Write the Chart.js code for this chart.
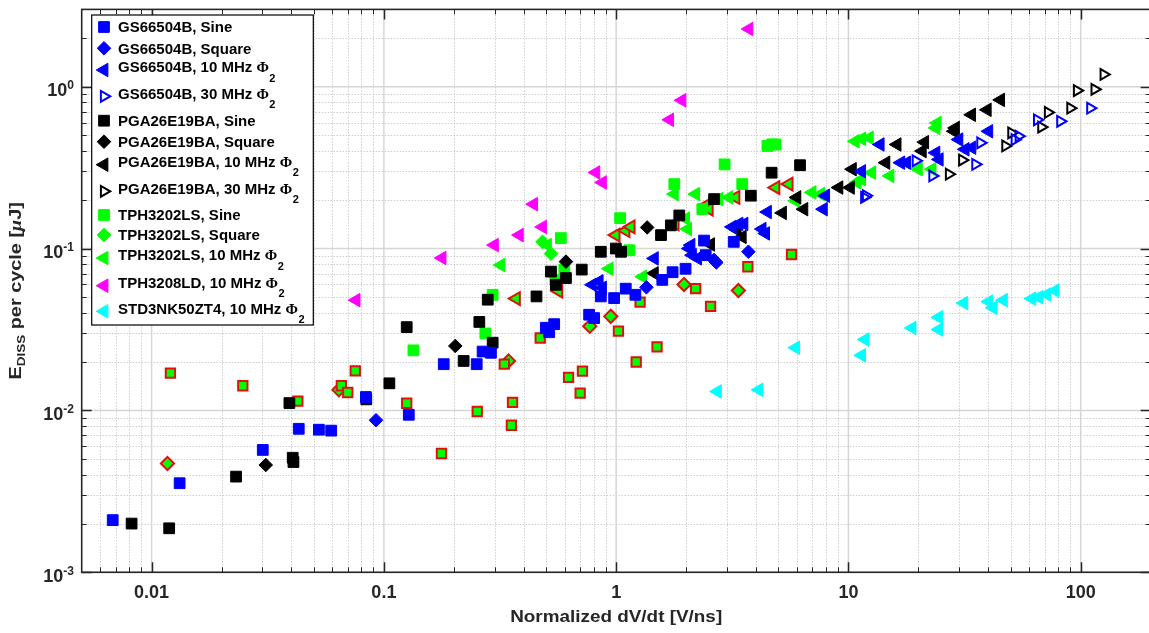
<!DOCTYPE html>
<html>
<head>
<meta charset="utf-8">
<title>E_DISS per cycle vs normalized dV/dt</title>
<script src="https://cdn.jsdelivr.net/npm/chart.js@4"></script>
<style>
  html, body { margin: 0; padding: 0; background: #fff; overflow: hidden; }
  #wrap { width: 1160px; height: 633px; }
</style>
</head>
<body>
<div id="wrap"><canvas id="chart" width="1160" height="633"></canvas></div>
<script>
// values: [dV/dt in V/ns, E_DISS in uJ]
const gsSine = [[0.0068,0.0021],[0.0132,0.00355],[0.0301,0.0057],[0.043,0.0077],[0.0525,0.0076],[0.0593,0.0075],[0.0837,0.0121],[0.128,0.0094],[0.181,0.0193],[0.251,0.0193],[0.266,0.0231],[0.289,0.0227],[0.498,0.0324],[0.515,0.0304],[0.541,0.0341],[0.765,0.039],[0.804,0.0372],[0.859,0.0506],[0.98,0.0494],[1.10,0.0565],[1.21,0.0518],[1.58,0.064],[1.75,0.0714],[1.99,0.075],[2.39,0.112],[2.43,0.091],[3.21,0.110]];
const gsSquare = [[0.0925,0.0087],[1.35,0.0576],[2.64,0.085],[2.70,0.082],[3.71,0.0955]];
const gs10 = [[0.79,0.0597],[0.845,0.0627],[0.873,0.0572],[1.46,0.0869],[2.06,0.100],[2.1,0.105],[2.13,0.091],[2.24,0.087],[3.16,0.136],[3.38,0.142],[3.55,0.142],[4.25,0.132],[4.40,0.124],[4.48,0.168],[7.8,0.175],[7.98,0.212],[11.4,0.30],[13.7,0.439],[16.8,0.339],[17.8,0.339],[23.8,0.39],[24.6,0.355],[29.9,0.471],[31.8,0.41],[34.0,0.42],[40.2,0.53]];
const gs30 = [[11.7,0.207],[11.9,0.212],[19.5,0.348],[23.0,0.281],[35.2,0.331],[37.0,0.45],[52.0,0.47],[54.1,0.494],[64.9,0.624],[81.7,0.611],[110,0.736]];
const pgaSine = [[0.0082,0.0020],[0.0119,0.00187],[0.0231,0.0039],[0.0392,0.0111],[0.0405,0.0051],[0.0408,0.0048],[0.084,0.0117],[0.1056,0.0147],[0.1254,0.0327],[0.2205,0.0202],[0.2576,0.0352],[0.294,0.0262],[0.280,0.0483],[0.454,0.0506],[0.524,0.072],[0.55,0.0597],[0.608,0.0657],[0.711,0.0741],[0.859,0.0955],[0.997,0.100],[1.05,0.0955],[1.56,0.121],[1.72,0.139],[1.87,0.160],[2.64,0.202],[3.80,0.212],[4.67,0.294],[6.19,0.327]];
const pgaSquare = [[0.031,0.0046],[0.203,0.025],[0.608,0.083],[1.36,0.135]];
const pga10 = [[1.46,0.0703],[2.55,0.106],[3.32,0.130],[3.49,0.118],[5.2,0.166],[6.0,0.207],[6.43,0.175],[9.1,0.238],[10.2,0.238],[10.4,0.309],[14.5,0.339],[16.2,0.439],[20.8,0.40],[21.3,0.454],[28.5,0.53],[28.9,0.556],[33.9,0.67],[39.6,0.719],[45.2,0.828]];
const pga30 = [[27.1,0.288],[30.9,0.352],[47.4,0.43],[50.3,0.518],[67.7,0.563],[72.3,0.693],[90.3,0.736],[96.4,0.945],[114.8,0.963],[125.6,1.19]];
const tphSine = [[0.134,0.0235],[0.2734,0.0299],[0.294,0.0518],[0.547,0.064],[0.598,0.0741],[0.578,0.116],[1.04,0.154],[1.14,0.0976],[1.78,0.25],[2.35,0.175],[2.93,0.331],[3.49,0.25],[4.48,0.43],[4.7,0.44],[4.86,0.439]];
const tphSquare = [[0.482,0.11],[0.524,0.093]];
const tph10 = [[0.319,0.079],[0.506,0.105],[0.933,0.075],[1.30,0.067],[1.78,0.217],[1.99,0.153],[2.03,0.132],[2.20,0.217],[2.77,0.202],[3.06,0.207],[5.93,0.197],[6.97,0.222],[7.6,0.217],[10.7,0.46],[11.4,0.476],[12.3,0.483],[10.9,0.256],[11.4,0.268],[12.6,0.294],[15.1,0.281],[20.0,0.309],[22.9,0.309],[23.8,0.556],[24.1,0.596]];
const tph08 = [[0.0759,0.048],[0.178,0.0874],[0.299,0.105],[0.383,0.121],[0.441,0.188],[0.482,0.136],[0.818,0.295],[0.873,0.256],[1.70,0.624],[1.92,0.823],[3.73,2.27]];
const std10 = [[2.73,0.0131],[4.12,0.0134],[5.93,0.0244],[11.4,0.0219],[11.8,0.0274],[18.8,0.0323],[24.5,0.0376],[24.5,0.0316],[31.4,0.046],[40.2,0.047],[42,0.043],[46.5,0.048],[61.6,0.049],[66,0.050],[71.4,0.052],[77.6,0.055]];
// green markers with red edge (not listed in the legend)
const edgeSine = [[0.01205,0.017],[0.0247,0.0142],[0.0426,0.0114],[0.0656,0.0142],[0.0699,0.0129],[0.0753,0.01755],[0.1254,0.01107],[0.177,0.00542],[0.2523,0.00985],[0.33,0.0193],[0.354,0.0081],[0.358,0.0112],[0.471,0.028],[0.624,0.016],[0.70,0.0128],[0.716,0.0175],[1.023,0.0309],[1.22,0.0199],[1.268,0.0467],[1.50,0.0247],[2.2,0.0565],[2.55,0.0439],[3.69,0.0772],[5.69,0.0918]];
const edgeSquare = [[0.0117,0.0047],[0.064,0.0134],[0.344,0.0202],[0.77,0.0331],[0.948,0.0381],[1.96,0.060],[3.36,0.055]];
const edge10 = [[0.371,0.0491],[0.565,0.0546],[0.997,0.121],[1.10,0.129],[1.157,0.136],[1.79,0.142],[2.43,0.184],[2.51,0.175],[3.27,0.207],[4.86,0.238],[5.54,0.25]];

const xTicks = [0.01, 0.1, 1, 10, 100];
const xTickLabels = ['0.01', '0.1', '1', '10', '100'];
const yTicks = [0.001, 0.01, 0.1, 1];
const yTickExps = ['-3', '-2', '-1', '0'];

const BLUE = '#0000ff', BLACK = '#000000', GREEN = '#00ff00', MAGENTA = '#ff00ff', CYAN = '#00ffff', RED = '#e01010';
const AXIS = '#262626';

// marker looks
const SQ = { pointStyle: 'rect', rotation: 0, radius: 7.6, borderWidth: 1 };
const DI = { pointStyle: 'rectRot', rotation: 0, radius: 6.8, borderWidth: 1 };
const TL = { pointStyle: 'triangle', rotation: -90, radius: 7.8, borderWidth: 1 };
const TR = { pointStyle: 'triangle', rotation: 90, radius: 6.2, borderWidth: 2 };

function series(label, pts, shape, fill, edge, inLegend, bw) {
  return {
    label: label,
    data: pts.map(p => ({ x: p[0], y: p[1] })),
    pointStyle: shape.pointStyle,
    rotation: shape.rotation,
    pointRadius: shape.radius,
    pointHoverRadius: shape.radius,
    pointBorderWidth: bw || shape.borderWidth,
    pointBackgroundColor: fill,
    pointBorderColor: edge,
    showLine: false,
    inLegend: inLegend
  };
}

const datasets = [
  series('GS66504B, Sine', gsSine, SQ, BLUE, BLUE, true),
  series('GS66504B, Square', gsSquare, DI, BLUE, BLUE, true),
  series('GS66504B, 10 MHz Φ₂', gs10, TL, BLUE, BLUE, true),
  series('GS66504B, 30 MHz Φ₂', gs30, TR, 'rgba(255,255,255,0)', BLUE, true),
  series('PGA26E19BA, Sine', pgaSine, SQ, BLACK, BLACK, true),
  series('PGA26E19BA, Square', pgaSquare, DI, BLACK, BLACK, true),
  series('PGA26E19BA, 10 MHz Φ₂', pga10, TL, BLACK, BLACK, true),
  series('PGA26E19BA, 30 MHz Φ₂', pga30, TR, 'rgba(255,255,255,0)', BLACK, true),
  series('TPH3202LS, Sine', tphSine, SQ, GREEN, GREEN, true),
  series('TPH3202LS, Square', tphSquare, DI, GREEN, GREEN, true),
  series('TPH3202LS, 10 MHz Φ₂', tph10, TL, GREEN, GREEN, true),
  series('TPH3208LD, 10 MHz Φ₂', tph08, TL, MAGENTA, MAGENTA, true),
  series('STD3NK50ZT4, 10 MHz Φ₂', std10, TL, CYAN, CYAN, true),
  series('red edge, Sine', edgeSine, { pointStyle: 'rect', rotation: 0, radius: 6.6 }, GREEN, RED, false, 2),
  series('red edge, Square', edgeSquare, { pointStyle: 'rectRot', rotation: 0, radius: 6.6 }, GREEN, RED, false, 2),
  series('red edge, 10 MHz Φ₂', edge10, { pointStyle: 'triangle', rotation: -90, radius: 7.4 }, GREEN, RED, false, 2)
];

const legendRows = [27, 48.3, 67, 93.3, 120.7, 141.7, 161.7, 188.3, 215, 235, 255, 282.7, 308.3];

function decadeMinors(min, max) {
  const out = [];
  for (let e = Math.floor(Math.log10(min)); e <= Math.ceil(Math.log10(max)); e++) {
    for (let m = 2; m <= 9; m++) {
      const v = m * Math.pow(10, e);
      if (v > min * 1.0001 && v < max * 0.9999) out.push(v);
    }
  }
  return out;
}

function markerPath(ctx, ds, cx, cy) {
  const r = ds.pointRadius, rad = (ds.rotation || 0) * Math.PI / 180;
  ctx.beginPath();
  if (ds.pointStyle === 'rect') {
    const s = Math.SQRT1_2 * r;
    ctx.rect(cx - s, cy - s, 2 * s, 2 * s);
  } else if (ds.pointStyle === 'rectRot') {
    ctx.moveTo(cx, cy - r); ctx.lineTo(cx + r, cy); ctx.lineTo(cx, cy + r); ctx.lineTo(cx - r, cy);
    ctx.closePath();
  } else {
    let a = rad;
    ctx.moveTo(cx + Math.sin(a) * r, cy - Math.cos(a) * r);
    a += 2 * Math.PI / 3;
    ctx.lineTo(cx + Math.sin(a) * r, cy - Math.cos(a) * r);
    a += 2 * Math.PI / 3;
    ctx.lineTo(cx + Math.sin(a) * r, cy - Math.cos(a) * r);
    ctx.closePath();
  }
  ctx.fillStyle = ds.pointBackgroundColor;
  ctx.fill();
  ctx.lineWidth = ds.pointBorderWidth;
  ctx.strokeStyle = ds.pointBorderColor;
  ctx.stroke();
}

const SANS = '"Liberation Sans", Arial, sans-serif';

const matlabAxes = {
  id: 'matlabAxes',
  beforeDatasetsDraw(chart) {
    const { ctx, chartArea: a, scales: { x, y } } = chart;
    ctx.save();
    ctx.lineWidth = 1;
    // minor grid, dotted
    ctx.strokeStyle = '#b8b8b8';
    ctx.setLineDash([1, 2]);
    decadeMinors(x.min, x.max).forEach(v => {
      const p = Math.round(x.getPixelForValue(v)) + 0.5;
      ctx.beginPath(); ctx.moveTo(p, a.top); ctx.lineTo(p, a.bottom); ctx.stroke();
    });
    decadeMinors(y.min, y.max).forEach(v => {
      const p = Math.round(y.getPixelForValue(v)) + 0.5;
      ctx.beginPath(); ctx.moveTo(a.left, p); ctx.lineTo(a.right, p); ctx.stroke();
    });
    // major grid, solid
    ctx.setLineDash([]);
    ctx.strokeStyle = '#d6d6d6';
    ctx.lineWidth = 1.5;
    xTicks.forEach(v => {
      const p = x.getPixelForValue(v);
      ctx.beginPath(); ctx.moveTo(p, a.top); ctx.lineTo(p, a.bottom); ctx.stroke();
    });
    yTicks.forEach(v => {
      const p = y.getPixelForValue(v);
      ctx.beginPath(); ctx.moveTo(a.left, p); ctx.lineTo(a.right, p); ctx.stroke();
    });
    ctx.restore();
  },
  afterDraw(chart) {
    const { ctx, chartArea: a, scales: { x, y } } = chart;
    ctx.save();
    // tick marks on all four sides
    ctx.strokeStyle = AXIS;
    ctx.lineWidth = 1;
    const tick = (v, len, axis) => {
      if (axis === 'x') {
        const p = Math.round(x.getPixelForValue(v)) + 0.5;
        ctx.beginPath(); ctx.moveTo(p, a.bottom); ctx.lineTo(p, a.bottom - len);
        ctx.moveTo(p, a.top); ctx.lineTo(p, a.top + len); ctx.stroke();
      } else {
        const p = Math.round(y.getPixelForValue(v)) + 0.5;
        ctx.beginPath(); ctx.moveTo(a.left, p); ctx.lineTo(a.left + len, p);
        ctx.moveTo(a.right, p); ctx.lineTo(a.right - len, p); ctx.stroke();
      }
    };
    decadeMinors(x.min, x.max).forEach(v => tick(v, 5, 'x'));
    decadeMinors(y.min, y.max).forEach(v => tick(v, 5, 'y'));
    ctx.lineWidth = 1.5;
    xTicks.forEach(v => tick(v, 10, 'x'));
    yTicks.forEach(v => tick(v, 10, 'y'));
    // frame
    ctx.lineWidth = 1.6;
    ctx.strokeRect(a.left, a.top, a.right - a.left, a.bottom - a.top);

    // x tick labels
    ctx.fillStyle = AXIS;
    ctx.font = 'bold 18px ' + SANS;
    ctx.textAlign = 'center';
    ctx.textBaseline = 'alphabetic';
    xTicks.forEach((v, i) => ctx.fillText(xTickLabels[i], x.getPixelForValue(v), a.bottom + 25.5));
    // y tick labels 10^n
    ctx.textAlign = 'left';
    yTicks.forEach((v, i) => {
      const p = y.getPixelForValue(v);
      ctx.font = 'bold 18px ' + SANS;
      const w1 = ctx.measureText('10').width;
      ctx.font = 'bold 12px ' + SANS;
      const w2 = ctx.measureText(yTickExps[i]).width;
      const x0 = 74 - w1 - w2;
      ctx.font = 'bold 18px ' + SANS;
      ctx.fillText('10', x0, p + 9.8);
      ctx.font = 'bold 12px ' + SANS;
      ctx.fillText(yTickExps[i], x0 + w1, p + 2.4);
    });
    // x title, centred on the axis, slightly wide lettering
    ctx.save();
    ctx.font = 'bold 16.5px ' + SANS;
    ctx.textAlign = 'center';
    ctx.translate((a.left + a.right) / 2, 621.5);
    ctx.scale(1.145, 1);
    ctx.fillText('Normalized dV/dt [V/ns]', 0, 0);
    ctx.restore();
    // y title
    ctx.save();
    const parts = [
      ['E', 'bold 17px ' + SANS, 0],
      ['DISS', 'bold 11.5px ' + SANS, 4.5],
      [' per cycle [', 'bold 17px ' + SANS, 0],
      ['μ', 'italic bold 17px "Liberation Serif", serif', 0],
      ['J]', 'bold 17px ' + SANS, 0]
    ];
    let total = 0;
    parts.forEach(pt => { ctx.font = pt[1]; total += ctx.measureText(pt[0]).width; });
    const stretch = 1.17;
    ctx.translate(20.5, (a.top + a.bottom) / 2 + total * stretch / 2);
    ctx.rotate(-Math.PI / 2);
    ctx.scale(stretch, 1);
    ctx.textAlign = 'left';
    let cx = 0;
    parts.forEach(pt => { ctx.font = pt[1]; ctx.fillText(pt[0], cx, pt[2]); cx += ctx.measureText(pt[0]).width; });
    ctx.restore();

    // legend box
    ctx.fillStyle = '#ffffff';
    ctx.fillRect(91.7, 15, 221.6, 310);
    ctx.strokeStyle = '#000';
    ctx.lineWidth = 1.2;
    ctx.strokeRect(91.7, 15, 221.6, 310);
    const shown = chart.data.datasets.filter(d => d.inLegend);
    shown.forEach((ds, i) => {
      const ty = legendRows[i];
      const hasPhi = ds.label.endsWith('Φ₂');
      markerPath(ctx, ds, 104, ty + (hasPhi ? 3 : 0));
      ctx.fillStyle = '#000';
      ctx.textAlign = 'left';
      const base = hasPhi ? ds.label.slice(0, -2) : ds.label;
      ctx.font = 'bold 15px ' + SANS;
      ctx.fillText(base, 118, ty + 5.4);
      if (hasPhi) {
        let px = 118 + ctx.measureText(base).width;
        ctx.font = 'bold 15px "Liberation Serif", serif';
        ctx.fillText('Φ', px, ty + 5.4);
        px += ctx.measureText('Φ').width + 0.5;
        ctx.font = 'bold 11px ' + SANS;
        ctx.fillText('2', px, ty + 14.5);
      }
    });
    ctx.restore();
  }
};

new Chart(document.getElementById('chart'), {
  type: 'scatter',
  data: { datasets: datasets },
  options: {
    responsive: false,
    animation: false,
    events: [],
    layout: { padding: { left: 0, top: 5.4, right: 6.5, bottom: 0 } },
    plugins: { legend: { display: false }, tooltip: { enabled: false } },
    scales: {
      x: {
        type: 'logarithmic', min: 0.005, max: 200,
        grid: { display: false }, border: { display: false }, ticks: { display: false },
        afterFit(s) { s.height = 60.7; }
      },
      y: {
        type: 'logarithmic', min: 0.001, max: 3,
        grid: { display: false }, border: { display: false }, ticks: { display: false },
        afterFit(s) { s.width = 81.7; }
      }
    }
  },
  plugins: [matlabAxes]
});
</script>
</body>
</html>
